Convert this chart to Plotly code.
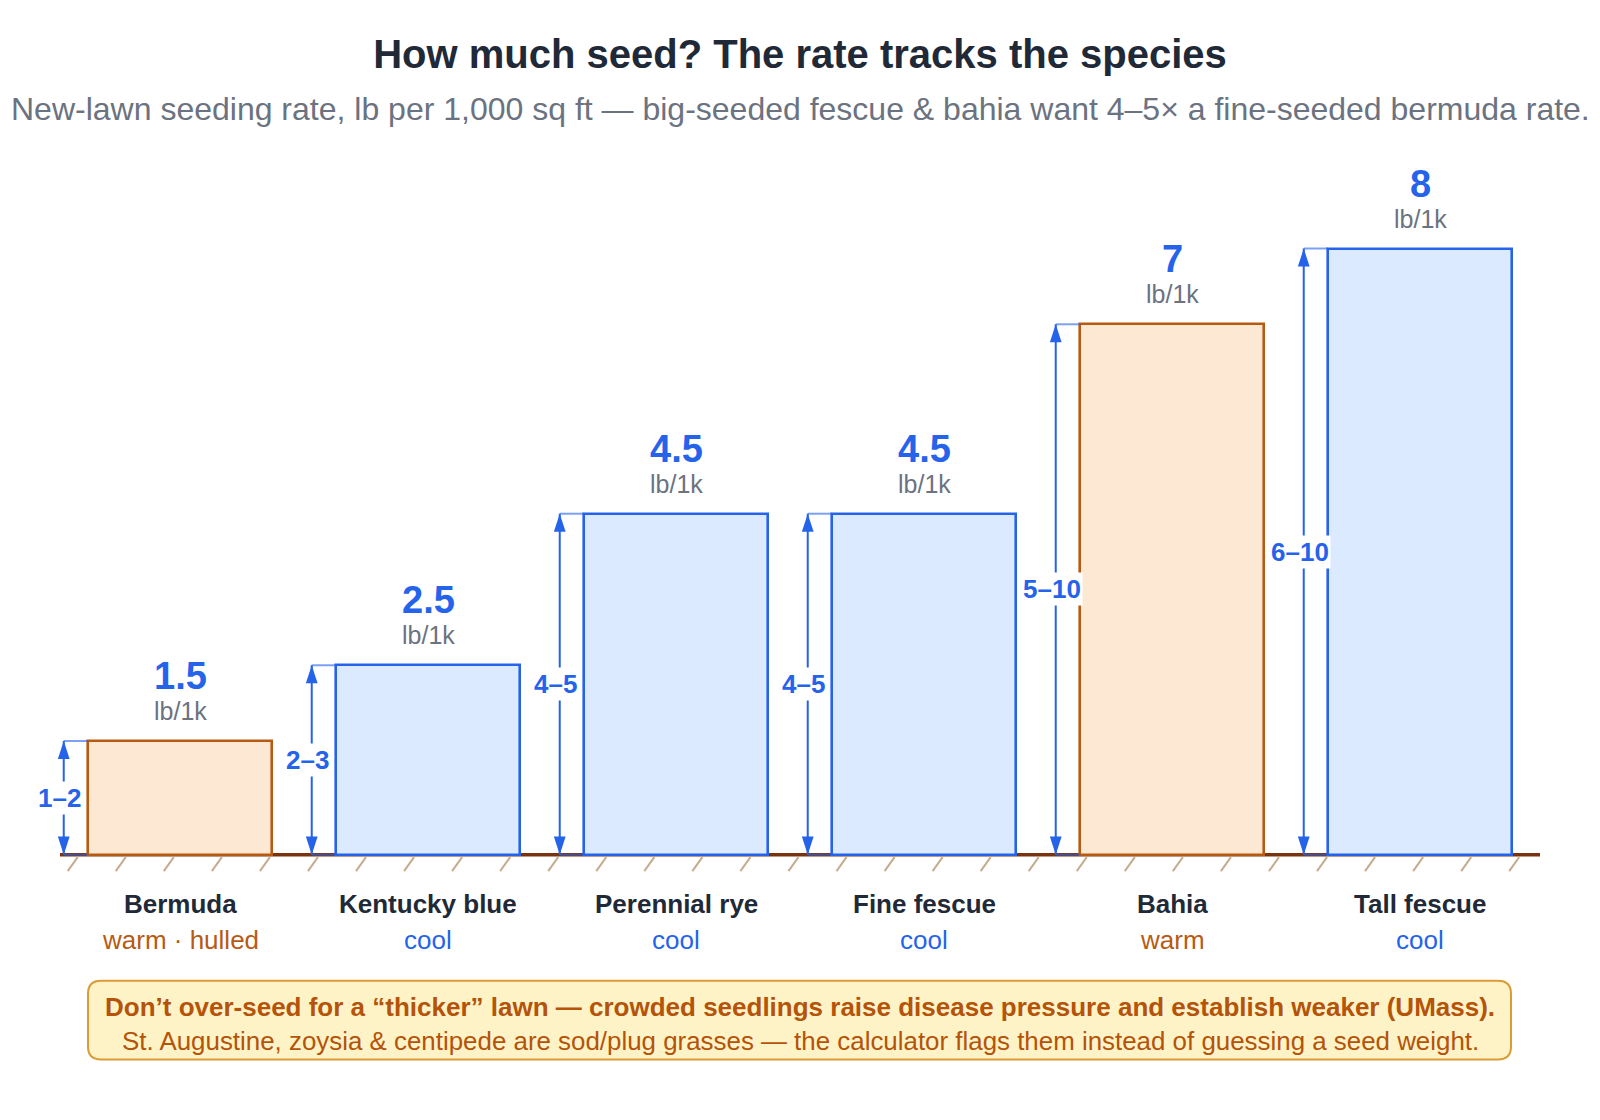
import plotly.graph_objects as go

# ---- data ----
species = ["Bermuda", "Kentucky blue", "Perennial rye", "Fine fescue", "Bahia", "Tall fescue"]
rate = [1.5, 2.5, 4.5, 4.5, 7, 8]
range_lo = [1, 2, 4, 4, 5, 6]
range_hi = [2, 3, 5, 5, 10, 10]
season_label = ["warm · hulled", "cool", "cool", "cool", "warm", "cool"]
season = ["warm", "cool", "cool", "cool", "warm", "cool"]
unit_label = "lb/1k"

title = "How much seed? The rate tracks the species"
subtitle = ("New-lawn seeding rate, lb per 1,000 sq ft — big-seeded fescue &amp; bahia "
            "want 4–5× a fine-seeded bermuda rate.")
note1 = ("Don’t over-seed for a “thicker” lawn — crowded seedlings raise disease "
         "pressure and establish weaker (UMass).")
note2 = ("St. Augustine, zoysia &amp; centipede are sod/plug grasses — the calculator "
         "flags them instead of guessing a seed weight.")

# ---- style ----
FONT = "Liberation Sans, Arial, Helvetica, sans-serif"
BLUE = "#2563eb"
BLUE_FILL = "#dbeafe"
ORANGE = "#b85a12"
ORANGE_FILL = "#fde9d3"
DARK = "#1f2937"
GRAY = "#6b7280"
GROUND = "#7a3310"
HATCH = "#c6ab8e"

W, H = 1600, 1120
ML, MR = 56, 56
XMIN, XMAX = -0.5, len(species) - 0.5
px_per_x = (W - ML - MR) / (XMAX - XMIN)

BASE_PX = 855          # pixel row of y = 0
px_per_y = 75.8
YMIN, YMAX = -0.4, 9.30
MT = BASE_PX - YMAX * px_per_y
MB = H - (BASE_PX - YMIN * px_per_y)
BAR_W = 0.74

edge = {"warm": ORANGE, "cool": BLUE}
fill = {"warm": ORANGE_FILL, "cool": BLUE_FILL}

xs = list(range(len(species)))

fig = go.Figure()

fig.add_trace(go.Bar(
    x=xs, y=rate, width=BAR_W,
    marker=dict(color=[fill[s] for s in season],
                line=dict(color=[edge[s] for s in season], width=2.6)),
    hoverinfo="skip", showlegend=False,
))

# dimension arrows
arrow_off = BAR_W / 2 + 24.5 / px_per_x
ax_x = [x - arrow_off for x in xs]
left_edge = [x - BAR_W / 2 for x in xs]

con_x, con_y = [], []
for a, l, v in zip(ax_x, left_edge, rate):
    con_x += [a, l, None, a, l, None]
    con_y += [v, v, None, 0, 0, None]
fig.add_trace(go.Scatter(x=con_x, y=con_y, mode="lines",
                         line=dict(color="rgba(37,99,235,0.6)", width=2),
                         hoverinfo="skip", showlegend=False))

ln_x, ln_y = [], []
for a, v in zip(ax_x, rate):
    ln_x += [a, a, None]
    ln_y += [0, v, None]
fig.add_trace(go.Scatter(x=ln_x, y=ln_y, mode="lines",
                         line=dict(color=BLUE, width=2),
                         hoverinfo="skip", showlegend=False))

hx, hy, hang = [], [], []
for a, v in zip(ax_x, rate):
    hx += [a, a]
    hy += [v, 0]
    hang += [0, 180]
fig.add_trace(go.Scatter(x=hx, y=hy, mode="markers",
                         marker=dict(symbol="arrow", size=19, color=BLUE,
                                     angle=hang, line=dict(width=0)),
                         hoverinfo="skip", showlegend=False))

annotations = []
for a, v, lo, hi in zip(ax_x, rate, range_lo, range_hi):
    annotations.append(dict(
        x=a, y=v / 2, xref="x", yref="y", showarrow=False, xshift=-4,
        xanchor="center", yanchor="middle",
        text=f"<b>{lo}–{hi}</b>", bgcolor="white", borderpad=1,
        font=dict(family=FONT, size=26, color=BLUE)))

for x, v in zip(xs, rate):
    annotations.append(dict(
        x=x, y=v, xref="x", yref="y", showarrow=False, yshift=65,
        xanchor="center", yanchor="middle",
        text=f"<b>{v:g}</b>", font=dict(family=FONT, size=38, color=BLUE)))
    annotations.append(dict(
        x=x, y=v, xref="x", yref="y", showarrow=False, yshift=30,
        xanchor="center", yanchor="middle",
        text=unit_label, font=dict(family=FONT, size=25, color=GRAY)))

for x, name, lab, s in zip(xs, species, season_label, season):
    annotations.append(dict(
        x=x, y=0, xref="x", yref="y", showarrow=False, yshift=-49,
        xanchor="center", yanchor="middle",
        text=f"<b>{name}</b>", font=dict(family=FONT, size=26, color=DARK)))
    annotations.append(dict(
        x=x, y=0, xref="x", yref="y", showarrow=False, yshift=-85,
        xanchor="center", yanchor="middle",
        text=lab, font=dict(family=FONT, size=26, color=edge[s])))

PW = W - ML - MR
PH = H - MT - MB

def px2paper_x(px):
    return (px - ML) / PW

def px2paper_y(py):
    return (H - MB - py) / PH

annotations.append(dict(
    x=px2paper_x(800), y=px2paper_y(109), xref="paper", yref="paper", showarrow=False,
    xanchor="center", yanchor="middle",
    text=subtitle, font=dict(family=FONT, size=32, color=GRAY)))

annotations.append(dict(
    x=px2paper_x(800), y=px2paper_y(1007), xref="paper", yref="paper", showarrow=False,
    xanchor="center", yanchor="middle",
    text=f"<b>{note1}</b>", font=dict(family=FONT, size=26, color="#b45309")))
annotations.append(dict(
    x=px2paper_x(800), y=px2paper_y(1041), xref="paper", yref="paper", showarrow=False,
    xanchor="center", yanchor="middle",
    text=note2, font=dict(family=FONT, size=25.9, color="#b45309")))

shapes = []
# ground line
shapes.append(dict(type="line", xref="x", yref="y", layer="below",
                   x0=(60 - ML) / px_per_x + XMIN, x1=(1540 - ML) / px_per_x + XMIN,
                   y0=0, y1=0, line=dict(color=GROUND, width=3.5)))
# hatch
n_hatch = 31
for k in range(n_hatch):
    cx = 72.7 + 48.05 * k
    shapes.append(dict(type="line", xref="x", yref="y", layer="below",
                       x0=(cx - 5 - ML) / px_per_x + XMIN,
                       x1=(cx + 5 - ML) / px_per_x + XMIN,
                       y0=-16.5 / px_per_y, y1=-2.5 / px_per_y,
                       line=dict(color=HATCH, width=2)))

# note box (rounded)
bx0, bx1, by0, by1, r = 88, 1511, 981, 1060, 13
X0, X1 = px2paper_x(bx0), px2paper_x(bx1)
Y0, Y1 = px2paper_y(by0), px2paper_y(by1)
RX = r / PW
RY = r / PH
path = (f"M {X0+RX},{Y0} L {X1-RX},{Y0} Q {X1},{Y0} {X1},{Y0-RY} "
        f"L {X1},{Y1+RY} Q {X1},{Y1} {X1-RX},{Y1} "
        f"L {X0+RX},{Y1} Q {X0},{Y1} {X0},{Y1+RY} "
        f"L {X0},{Y0-RY} Q {X0},{Y0} {X0+RX},{Y0} Z")
shapes.append(dict(type="path", xref="paper", yref="paper", path=path,
                   fillcolor="#fef3c7", line=dict(color="#dd9b36", width=2),
                   layer="below"))

fig.update_layout(
    width=W, height=H,
    margin=dict(l=ML, r=MR, t=MT, b=MB, pad=0),
    paper_bgcolor="white", plot_bgcolor="white",
    title=dict(text=f"<b>{title}</b>", x=0.5, xanchor="center",
               y=1 - 54 / H, yanchor="middle", yref="container",
               font=dict(family=FONT, size=40, color=DARK)),
    xaxis=dict(range=[XMIN, XMAX], visible=False, fixedrange=True),
    yaxis=dict(range=[YMIN, YMAX], visible=False, fixedrange=True),
    annotations=annotations, shapes=shapes,
    bargap=0, showlegend=False,
)

fig.write_html("out.html")
